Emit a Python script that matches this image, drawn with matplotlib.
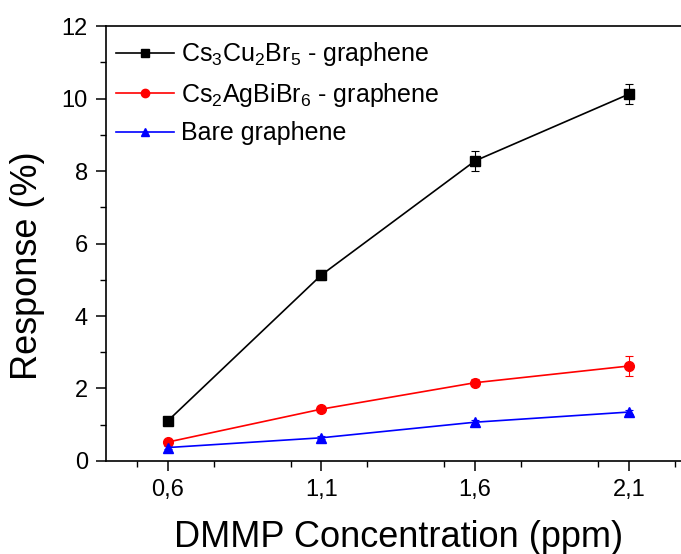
import matplotlib
matplotlib.use("Agg")
import matplotlib.pyplot as plt
from matplotlib.lines import Line2D
from matplotlib.ticker import MultipleLocator

plt.rcParams['font.family'] = ['Liberation Sans', 'DejaVu Sans']
plt.rcParams['mathtext.default'] = 'regular'

# --- data ---
conc = [0.6, 1.1, 1.6, 2.1]

cu_resp = [1.10, 5.13, 8.28, 10.12]
cu_err = [0.08, 0.15, 0.27, 0.28]

ag_resp = [0.52, 1.43, 2.16, 2.62]
ag_err = [0.05, 0.08, 0.10, 0.28]

bare_resp = [0.37, 0.64, 1.07, 1.35]
bare_err = [0.03, 0.04, 0.05, 0.06]

labels = [r'Cs$_3$Cu$_2$Br$_5$ - graphene',
          r'Cs$_2$AgBiBr$_6$ - graphene',
          'Bare graphene']
xtick_labels = ['0,6', '1,1', '1,6', '2,1']

fig = plt.figure(figsize=(6.81, 5.54), dpi=100)
ax = fig.add_axes([0.1557, 0.1679, 0.858, 0.7851])

series = [
    (cu_resp, cu_err, 'black', 's', 6.5),
    (ag_resp, ag_err, 'red', 'o', 7),
    (bare_resp, bare_err, 'blue', '^', 7),
]
handles = []
for (y, err, col, mk, ms), lab in zip(series, labels):
    ax.errorbar(conc, y, yerr=err, color=col, marker=mk, markersize=ms,
                linewidth=1.2, elinewidth=0.8, capsize=3, capthick=0.8)
    # legend handle without the error bar
    handles.append(Line2D([], [], color=col, marker=mk, markersize=ms - 1,
                          linewidth=1.2, label=lab))

ax.set_xlim(0.4, 2.3)
ax.set_ylim(0, 12)
ax.set_xticks(conc)
ax.set_xticklabels(xtick_labels)
ax.xaxis.set_minor_locator(MultipleLocator(0.25))
ax.yaxis.set_major_locator(MultipleLocator(2))
ax.yaxis.set_minor_locator(MultipleLocator(1))

ax.tick_params(which='major', direction='out', length=7, width=1.1,
               labelsize=17, pad=6)
ax.tick_params(which='minor', direction='out', length=4, width=1.0)
for s in ax.spines.values():
    s.set_linewidth(1.2)
ax.spines['right'].set_visible(False)

ax.set_xlabel('DMMP Concentration (ppm)', fontsize=26, labelpad=14)
ax.set_ylabel('Response (%)', fontsize=26)
ax.yaxis.set_label_coords(-0.104, 0.45)

ax.legend(handles=handles, loc='upper left', frameon=False, fontsize=18,
          handlelength=2.3, handletextpad=0.3, labelspacing=0.5,
          borderaxespad=0.0, bbox_to_anchor=(0.0, 0.99))

fig.savefig('out.png', dpi=100)
plt.close(fig)
